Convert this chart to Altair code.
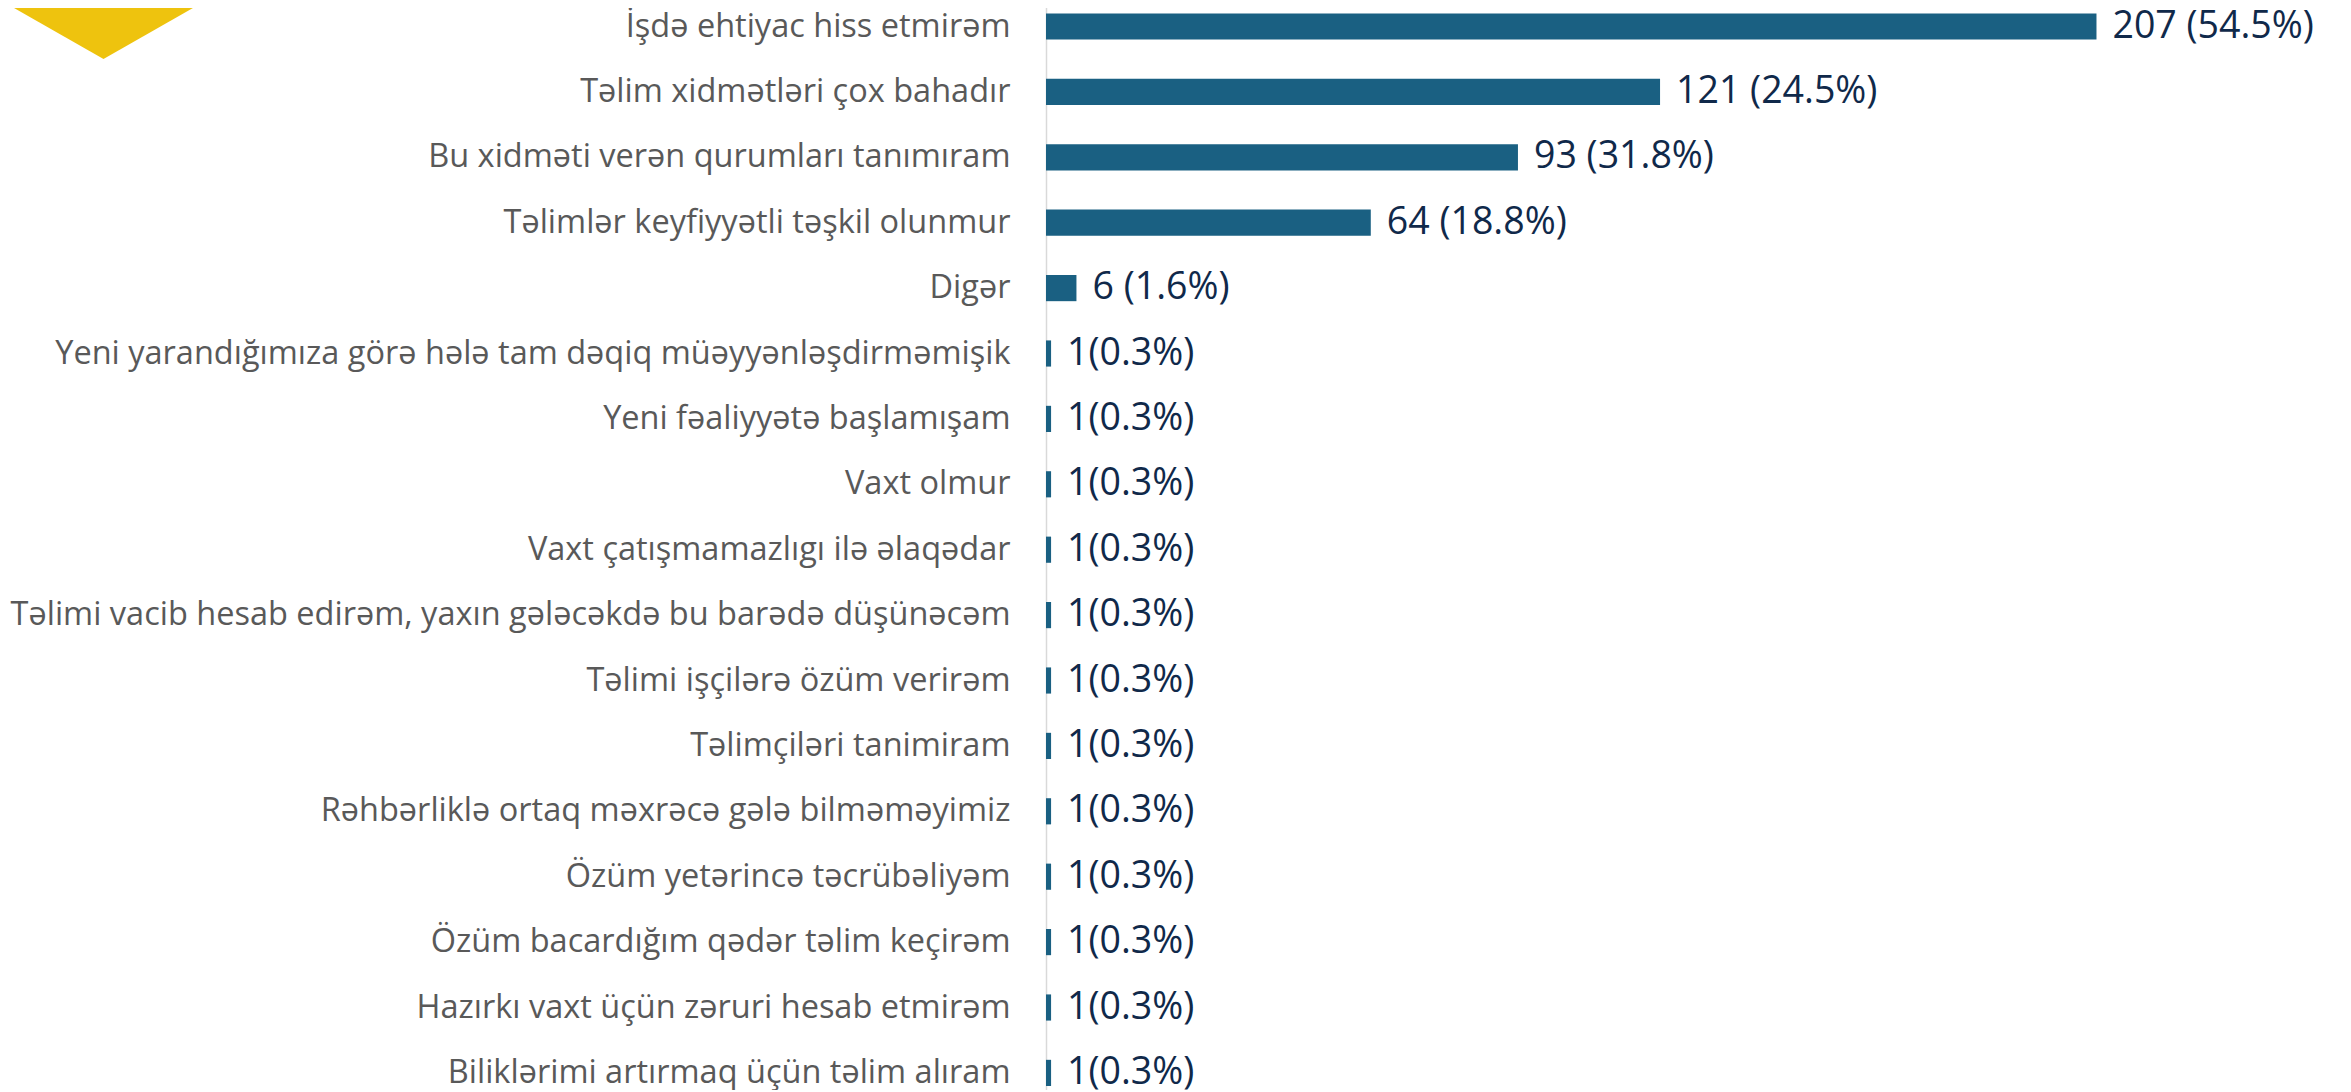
import altair as alt
import pandas as pd

categories = [
    "İşdə ehtiyac hiss etmirəm",
    "Təlim xidmətləri çox bahadır",
    "Bu xidməti verən qurumları tanımıram",
    "Təlimlər keyfiyyətli təşkil olunmur",
    "Digər",
    "Yeni yarandığımıza görə hələ tam dəqiq müəyyənləşdirməmişik",
    "Yeni fəaliyyətə başlamışam",
    "Vaxt olmur",
    "Vaxt çatışmamazlıgı ilə əlaqədar",
    "Təlimi vacib hesab edirəm, yaxın gələcəkdə bu barədə düşünəcəm",
    "Təlimi işçilərə özüm verirəm",
    "Təlimçiləri tanimiram",
    "Rəhbərliklə ortaq məxrəcə gələ bilməməyimiz",
    "Özüm yetərincə təcrübəliyəm",
    "Özüm bacardığım qədər təlim keçirəm",
    "Hazırkı vaxt üçün zəruri hesab etmirəm",
    "Biliklərimi artırmaq üçün təlim alıram",
]
counts = [207, 121, 93, 64, 6, 1, 1, 1, 1, 1, 1, 1, 1, 1, 1, 1, 1]
value_labels = [
    "207 (54.5%)", "121 (24.5%)", "93 (31.8%)", "64 (18.8%)", "6 (1.6%)",
    "1(0.3%)", "1(0.3%)", "1(0.3%)", "1(0.3%)", "1(0.3%)", "1(0.3%)",
    "1(0.3%)", "1(0.3%)", "1(0.3%)", "1(0.3%)", "1(0.3%)", "1(0.3%)",
]

df = pd.DataFrame({"category": categories, "count": counts, "label": value_labels})

y = alt.Y(
    "category:N",
    sort=categories,
    scale=alt.Scale(range=[-14.2, 1097.6], paddingInner=0.6, paddingOuter=0.3),
    axis=alt.Axis(
        title=None, ticks=False, domain=True, domainColor="#d9d9d9", domainWidth=1.5,
        labelFont="Open Sans", labelFontSize=32.5, labelColor="#595959",
        labelPadding=36, labelLimit=1100,
    ),
)
x = alt.X("count:Q", scale=alt.Scale(domain=[0, 254]), axis=None)

bars = alt.Chart(df).mark_bar(color="#1a6082").encode(x=x, y=y)
text = alt.Chart(df).mark_text(
    align="left", dx=16, font="Open Sans", fontSize=37.5, color="#10294a"
).encode(x=x, y=y, text="label:N")

tri = alt.Chart(pd.DataFrame({"k": [0]})).mark_point(
    shape="M -1 -1 L 1 -1 L 0 -0.43 Z", filled=True, size=42849,
    color="#EEC30E", opacity=1, strokeWidth=0,
).encode(x=alt.value(-942.5), y=alt.value(95.5))

chart = alt.layer(bars, text, tri).properties(
    width=1289, height=1082,
    padding={"left": 1038, "top": 0, "right": 0, "bottom": 0},
    autosize=alt.AutoSizeParams(type="none"),
).configure_view(stroke=None)

chart.save("out.html", embed_options={"renderer": "svg", "actions": False})
